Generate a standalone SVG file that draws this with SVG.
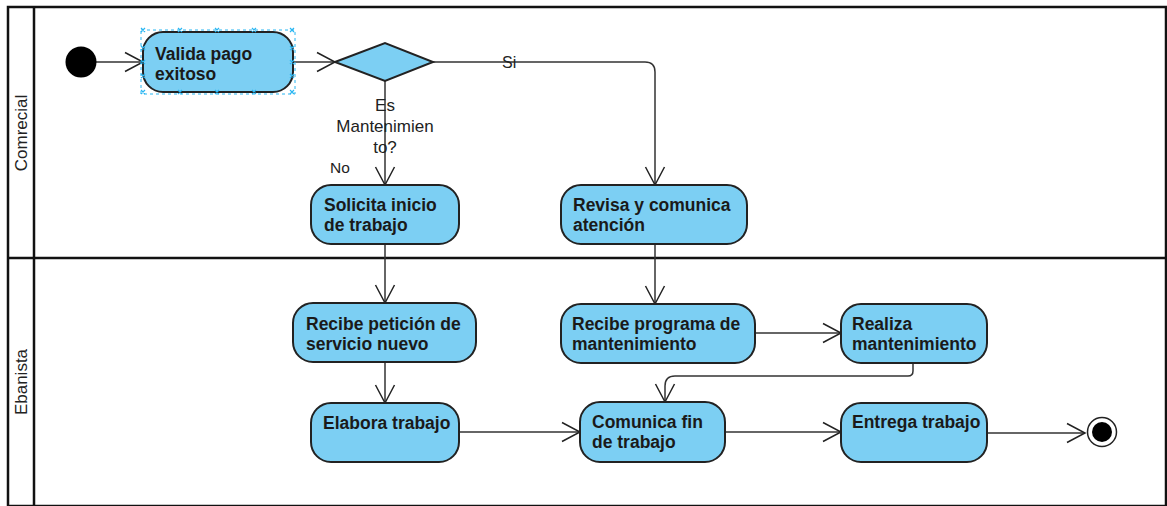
<svg xmlns="http://www.w3.org/2000/svg" width="1167" height="506" viewBox="0 0 1167 506">
<style>
.frame{fill:none;stroke:#111;stroke-width:2.5}
.node rect{fill:#7ccff3;stroke:#222;stroke-width:2}
.nt{font-family:"Liberation Sans",Arial,sans-serif;font-size:17.5px;font-weight:bold;fill:#1a1a1a}
.lbl{font-family:"Liberation Sans",Arial,sans-serif;fill:#222}
.edge{fill:none;stroke:#333;stroke-width:1.5;marker-end:url(#open)}
.node rect.sel{fill:none;stroke:#29b6f2;stroke-width:1;stroke-dasharray:3 3}
.hx{stroke:#29b6f2;stroke-width:1.2}
</style>
<defs>
<marker id="open" viewBox="-20 -11 22 22" refX="0" refY="0" markerWidth="22" markerHeight="22" markerUnits="userSpaceOnUse" orient="auto">
<path d="M-18,-9.5 L0,0 L-18,9.5" fill="none" stroke="#222" stroke-width="1.5"/>
</marker>
</defs>
<rect width="1167" height="506" fill="#fff"/>
<g id="pool">
<rect class="frame" x="8" y="7" width="1158" height="499"/>
<line class="frame" x1="34" y1="7" x2="34" y2="506"/>
<line class="frame" x1="8" y1="258" x2="1166" y2="258"/>
<text class="lbl" font-size="17" text-anchor="middle" transform="translate(27,133) rotate(-90)">Comrecial</text>
<text class="lbl" font-size="17" text-anchor="middle" transform="translate(27,382) rotate(-90)">Ebanista</text>
</g>
<g id="connectors">
<path class="edge" d="M96,62 H143"/>
<path class="edge" d="M293,62 H335"/>
<path class="edge" d="M433,62 H645 Q655,62 655,72 V185"/>
<path class="edge" d="M385,81 V185"/>
<path class="edge" d="M385,245 V303"/>
<path class="edge" d="M655,245 V304"/>
<path class="edge" d="M385,362 V403"/>
<path class="edge" d="M755,333 H841"/>
<path class="edge" d="M913,363 V371 Q913,376 908,376 H675 Q665,376 665,386 V402"/>
<path class="edge" d="M459,432 H580"/>
<path class="edge" d="M725,432 H841"/>
<path class="edge" d="M987,433 H1085"/>
<text class="lbl" font-size="16" x="502" y="68">Si</text>
<text class="lbl" font-size="15.5" x="330" y="173">No</text>
<text class="lbl" font-size="17" text-anchor="middle"><tspan x="385" y="111">Es</tspan><tspan x="385" y="132">Mantenimien</tspan><tspan x="385" y="153">to?</tspan></text>
</g>
<g id="start"><circle cx="81" cy="62" r="15.5" fill="#000"/></g>
<g id="valida" class="node">
<rect x="143" y="32" width="150" height="60" rx="20"/>
<text class="nt"><tspan x="155" y="60">Valida pago</tspan><tspan x="155" y="80">exitoso</tspan></text>
<rect class="sel" x="141" y="30" width="154" height="64"/>
<path class="hx" d="M141,28l4,4m0,-4l-4,4 M178,28l4,4m0,-4l-4,4 M215,28l4,4m0,-4l-4,4 M252,28l4,4m0,-4l-4,4 M290,28l4,4m0,-4l-4,4 M141,90l4,4m0,-4l-4,4 M178,90l4,4m0,-4l-4,4 M215,90l4,4m0,-4l-4,4 M252,90l4,4m0,-4l-4,4 M290,90l4,4m0,-4l-4,4 M141,46l4,4m0,-4l-4,4 M141,60l4,4m0,-4l-4,4 M141,74l4,4m0,-4l-4,4 M290,46l4,4m0,-4l-4,4 M290,60l4,4m0,-4l-4,4 M290,74l4,4m0,-4l-4,4"/>
</g>
<g id="decision"><polygon points="335,62 385,43 433,62 385,81" fill="#7ccff3" stroke="#222" stroke-width="2"/></g>
<g id="solicita" class="node">
<rect x="311" y="185" width="148" height="59" rx="20"/>
<text class="nt"><tspan x="324" y="211">Solicita inicio</tspan><tspan x="324" y="231">de trabajo</tspan></text>
</g>
<g id="revisa" class="node">
<rect x="561" y="185" width="186" height="59" rx="20"/>
<text class="nt"><tspan x="573" y="211">Revisa y comunica</tspan><tspan x="573" y="231">atención</tspan></text>
</g>
<g id="recibe-peticion" class="node">
<rect x="293" y="303" width="183" height="59" rx="20"/>
<text class="nt"><tspan x="306" y="330">Recibe petición de</tspan><tspan x="306" y="350">servicio nuevo</tspan></text>
</g>
<g id="recibe-programa" class="node">
<rect x="561" y="304" width="194" height="59" rx="20"/>
<text class="nt"><tspan x="572" y="330">Recibe programa de</tspan><tspan x="572" y="350">mantenimiento</tspan></text>
</g>
<g id="realiza" class="node">
<rect x="841" y="304" width="146" height="59" rx="20"/>
<text class="nt"><tspan x="852" y="330">Realiza</tspan><tspan x="852" y="350">mantenimiento</tspan></text>
</g>
<g id="elabora" class="node">
<rect x="311" y="403" width="148" height="59" rx="20"/>
<text class="nt" x="323" y="429">Elabora trabajo</text>
</g>
<g id="comunica" class="node">
<rect x="580" y="402" width="145" height="60" rx="20"/>
<text class="nt"><tspan x="592" y="428">Comunica fin</tspan><tspan x="592" y="448">de trabajo</tspan></text>
</g>
<g id="entrega" class="node">
<rect x="841" y="403" width="146" height="59" rx="20"/>
<text class="nt" x="852" y="428">Entrega trabajo</text>
</g>
<g id="end">
<circle cx="1102" cy="432" r="14.5" fill="#fff" stroke="#222" stroke-width="1.5"/>
<circle cx="1102" cy="432" r="10" fill="#000"/>
</g>
</svg>
